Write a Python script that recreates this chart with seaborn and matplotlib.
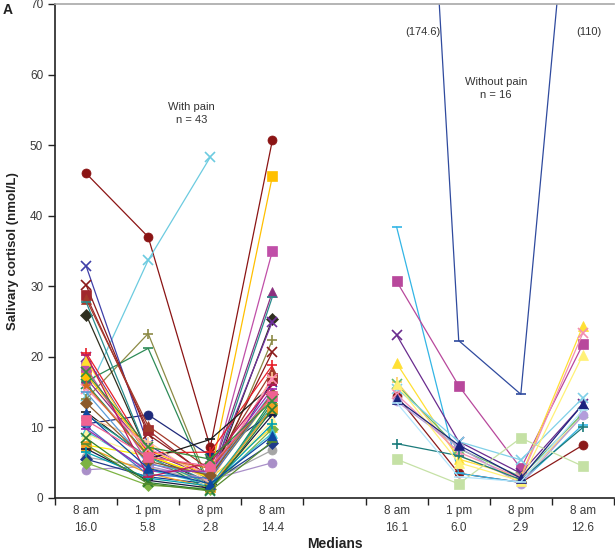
import numpy as np
import pandas as pd
import matplotlib
matplotlib.use("Agg")
import matplotlib.pyplot as plt
import seaborn as sns

sns.set_style("ticks")
plt.rcParams['font.family'] = ['Liberation Sans', 'DejaVu Sans']

# ---------------- data ----------------
time_labels = ["8 am", "1 pm", "8 pm", "8 am"]
pain_medians = ["16.0", "5.8", "2.8", "14.4"]
nopain_medians = ["16.1", "6.0", "2.9", "12.6"]

# With pain (n = 43): one entry per subject
pain_8am = [46.0, 14.5, 14.0, 16.5, 10.5, 32.9, 30.2, 28.7, 28.2, 26.0, 17.0, 27.8, 17.5, 18.5, 20.0,
            20.6, 12.2, 19.5, 7.5, 5.8, 4.0, 5.5, 5.0, 16.2, 9.5, 11.5, 9.0, 15.5, 11.8, 15.0,
            7.3, 10.2, 7.0, 13.5, 6.5, 9.8, 16.0, 8.5, 20.3, 12.0, 7.6, 11.0, 17.8]
pain_1pm = [37.0, 33.7, 23.3, 21.2, 11.8, 7.5, 9.0, 9.6, 10.2, 6.2, 6.5, 6.2, 6.8, 5.0, 5.8,
            6.4, 5.5, 6.0, 6.0, 4.3, 4.5, 3.0, 1.8, 6.0, 4.0, 8.0, 5.8, 7.0, 5.8, 4.8,
            3.5, 3.3, 2.5, 5.2, 2.8, 3.8, 5.9, 2.2, 3.0, 4.2, 2.0, 5.8, 7.2]
pain_8pm = [7.2, 48.3, 1.5, 1.2, 6.0, 2.5, 3.0, 2.7, 4.0, 2.0, 3.0, 2.2, 3.1, 2.4, 2.9,
            6.5, 8.3, 2.8, 2.9, 2.3, 2.6, 2.0, 1.3, 1.0, 1.9, 2.1, 1.6, 3.3, 1.8, 3.4,
            1.5, 2.8, 1.4, 3.2, 1.7, 3.8, 4.2, 1.1, 5.0, 2.0, 1.0, 4.5, 5.5]
pain_8am2 = [50.7, np.nan, 22.4, 13.5, 12.0, 16.5, 20.7, 17.0, 18.0, 25.4, 29.2, 28.5, 45.6, 35.0, 25.0,
             18.8, 16.0, 10.0, 14.4, 6.8, 5.0, 7.8, 9.8, 14.0, 9.2, 17.2, 11.0, 16.8, 13.0, 15.0,
             12.8, 14.6, 11.8, 14.8, 10.5, 15.5, 14.5, 12.5, 16.0, 8.8, 8.0, 14.4, 13.8]

# Without pain (n = 16)
nopain_8am = [14.5, 174.6, 38.4, 30.7, 23.1, 19.1, 16.5, 16.1, 15.5, 14.7, 13.7, 7.7, 5.5, 16.1, 14.0, 13.5]
nopain_1pm = [3.5, 22.3, 3.5, 15.9, 8.0, 5.5, 6.0, 7.0, 8.0, 6.5, 7.2, 6.0, 2.0, 5.0, 7.5, 3.0]
nopain_8pm = [2.2, 14.7, 2.2, 4.2, 3.5, 3.0, 2.5, 3.0, 5.4, 2.8, 2.0, 2.6, 8.5, 2.4, 2.8, 2.3]
nopain_8am2 = [7.5, 110.0, 10.4, 21.8, 13.3, 24.4, 11.7, 12.0, 14.2, 23.4, 11.7, 10.0, 4.5, 20.3, 13.3, 12.5]

# ---------------- styles ----------------
pain_colors = ['#8B1414', '#6CCBE0', '#8C8A45', '#2E8B57', '#1F2A7A', '#3F3FA8', '#8B1A1A', '#A0282D',
               '#A33A2A', '#2F2F1F', '#8B2F7F', '#2A8C8C', '#FFC000', '#C04FA8', '#7030A0', '#E8202A',
               '#1A1A1A', '#FFE030', '#FFEE00', '#A5A5A5', '#A98FC8', '#1F3A8A', '#7CB342', '#1E8C5A',
               '#40C0D0', '#FFC89A', '#FFF59D', '#FF8CB4', '#26A69A', '#5B9BD5', '#F4A020', '#4472C4',
               '#1A1A40', '#8B5A2B', '#00A0B0', '#9C27B0', '#D2691E', '#2E7D32', '#C2185B', '#0D47A1',
               '#558B2F', '#F06292', '#388E3C']
pain_markers = ['o', 'x', '+', '_', 'o', 'x', 'x', 's', '^', 'D', '^', '_', 's', 's', 'x',
                '+', '_', '^', '*', 'o', 'o', 'D', 'D', 'x', '^', '+', '^', 'x', '^', '_',
                's', '_', '_', 'D', '+', '_', '*', 'x', '_', '^', '_', 's', 'x']
nopain_colors = ['#8B1A1A', '#2F4A9E', '#33B5E5', '#B8489C', '#6A2C8E', '#FFE033', '#FFCC66', '#66BB6A',
                 '#7FD0E8', '#F48FB1', '#B39DDB', '#1B7B7B', '#C5E1A5', '#FFF176', '#1A237E', '#B3E5FC']
nopain_markers = ['o', '_', '_', 's', 'x', '^', '+', 'x', 'x', 'x', 'o', '+', 's', '^', '^', '_']

pain_pos = [0.5, 1.5, 2.5, 3.5]
nopain_pos = [5.5, 6.5, 7.5, 8.5]

rows = []
for i in range(len(pain_8am)):
    for p, v in zip(pain_pos, [pain_8am[i], pain_1pm[i], pain_8pm[i], pain_8am2[i]]):
        rows.append(dict(group="pain", subject=f"p{i}", x=p, y=v))
for i in range(len(nopain_8am)):
    for p, v in zip(nopain_pos, [nopain_8am[i], nopain_1pm[i], nopain_8pm[i], nopain_8am2[i]]):
        rows.append(dict(group="nopain", subject=f"n{i}", x=p, y=v))
df = pd.DataFrame(rows)

fig = plt.figure(figsize=(6.15, 5.51), dpi=100)
ax = fig.add_axes([55/615, 53/551, 559/615, 494/551])

def draw(prefix, colors, markers):
    for i, (c, m) in enumerate(zip(colors, markers)):
        sub = df[df.subject == f"{prefix}{i}"].dropna()
        filled = m in ('o', 's', '^', 'D', '*')
        sns.lineplot(data=sub, x="x", y="y", ax=ax, color=c, marker=m, estimator=None,
                     linewidth=0.9, markersize=6.5 if filled else 7.5,
                     markeredgecolor=c, markeredgewidth=1.2 if not filled else 0.5,
                     legend=False, sort=False)

draw("p", pain_colors, pain_markers)
draw("n", nopain_colors, nopain_markers)

ax.set_xlim(0, 9)
ax.set_ylim(0, 70)
ax.set_yticks(range(0, 71, 10))
ax.set_xticks(pain_pos + nopain_pos)
ax.set_xticklabels([f"{t}\n{m}" for t, m in zip(time_labels, pain_medians)] +
                   [f"{t}\n{m}" for t, m in zip(time_labels, nopain_medians)],
                   linespacing=1.6)
ax.set_xticks(range(0, 10), minor=True)
ax.tick_params(axis='x', which='major', length=0, pad=5, labelsize=8.5, labelcolor='#3a3a3a')
ax.tick_params(axis='x', which='minor', length=5, width=1, direction='out', color='#222222')
ax.tick_params(axis='y', length=5, width=1, direction='out', labelsize=8.5, labelcolor='#3a3a3a',
               color='#222222')

for s in ['left', 'bottom']:
    ax.spines[s].set_color('#222222')
    ax.spines[s].set_linewidth(1.2)
ax.spines['right'].set_visible(False)
ax.spines['top'].set_color('#A8A8A8')
ax.spines['top'].set_linewidth(1.2)

ax.set_xlabel("Medians", fontweight='bold', fontsize=10, labelpad=2, color='#222222')
ax.set_ylabel("Salivary cortisol (nmol/L)", fontweight='bold', fontsize=9.5, color='#222222', labelpad=8)

ax.text(2.2, 54.5, "With pain\nn = 43", ha='center', va='center', fontsize=8, color='#333333',
        linespacing=1.4)
ax.text(7.1, 58.0, "Without pain\nn = 16", ha='center', va='center', fontsize=8, color='#333333',
        linespacing=1.4)
ax.text(5.93, 66.0, "(174.6)", ha='center', va='center', fontsize=8, color='#333333')
ax.text(8.6, 66.0, "(110)", ha='center', va='center', fontsize=8, color='#333333')

fig.text(0.004, 0.982, "A", fontweight='bold', fontsize=10, color='#222222', va='center')

fig.savefig("out.png", dpi=100)
